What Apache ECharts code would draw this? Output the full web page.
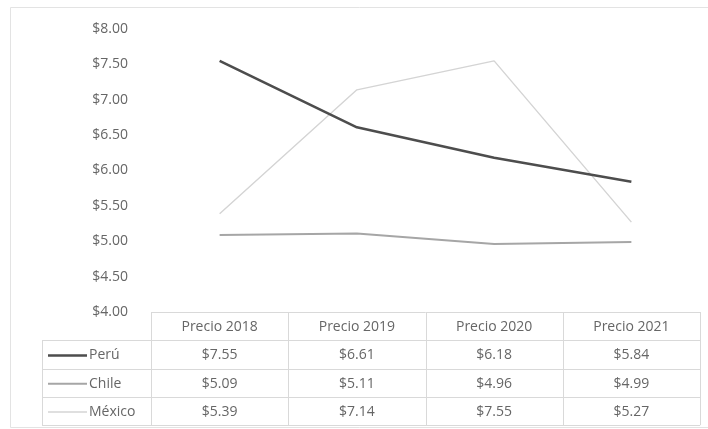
<!DOCTYPE html>
<html><head><meta charset="utf-8">
<script src="https://cdn.jsdelivr.net/npm/echarts@6/dist/echarts.min.js"></script>
<style>html,body{margin:0;padding:0;background:#fff}#c{width:708px;height:429px}</style>
</head><body><div id="c"></div>
<script>
var categories = ['Precio 2018', 'Precio 2019', 'Precio 2020', 'Precio 2021'];
var seriesNames = ['Perú', 'Chile', 'México'];
var peru = [7.55, 6.61, 6.18, 5.84];
var chile = [5.09, 5.11, 4.96, 4.99];
var mexico = [5.39, 7.14, 7.55, 5.27];
var yTicks = [4, 4.5, 5, 5.5, 6, 6.5, 7, 7.5, 8];

var allValues = [peru, chile, mexico];
var colors = ['#4d4d4d', '#a6a6a6', '#d4d4d4'];
var widths = [2.6, 2, 1.4];
var textColor = '#666666';
var border = '#d9d9d9';
var font = '"Open Sans", "Liberation Sans", Arial, sans-serif';
var fs = 14;

var chart = echarts.init(document.getElementById('c'));
var G = {left: 151, right: 8, top: 29, bottom: 117};

var option = {
  animation: false,
  grid: {left: G.left, right: G.right, top: G.top, bottom: G.bottom, containLabel: false},
  xAxis: {type: 'category', data: categories, boundaryGap: true,
    axisLine: {show: false}, axisTick: {show: false}, axisLabel: {show: false}},
  yAxis: {type: 'value', min: yTicks[0], max: yTicks[yTicks.length - 1], interval: 0.5,
    axisLine: {show: false}, axisTick: {show: false}, splitLine: {show: false},
    axisLabel: {color: textColor, fontSize: fs, fontFamily: font, margin: 23,
      formatter: function (v) { return '$' + v.toFixed(2); }}},
  series: seriesNames.map(function (n, i) {
    return {name: n, type: 'line', data: allValues[i], symbol: 'none', z: 3 - i,
      lineStyle: {color: colors[i], width: widths[i]}};
  })
};
chart.setOption(option);

// build data table from the arrays, positioned through the chart's own scales
var W = 708, H = 429;
var tableTop = H - G.bottom;
var rowH = 28.3;
var colLeft = 42, plotLeft = G.left, plotRight = W - G.right;
var step = (plotRight - plotLeft) / categories.length;
var els = [];
els.push({type: 'rect', shape: {x: 10.5, y: 7.5, width: 720, height: 420}, style: {fill: 'none', stroke: '#e3e3e3', lineWidth: 1}, silent: true});
function line(x1, y1, x2, y2) {
  els.push({type: 'line', shape: {x1: x1, y1: y1, x2: x2, y2: y2}, style: {stroke: border, lineWidth: 1}, silent: true});
}
var bottomY = tableTop + rowH * (seriesNames.length + 1);
line(plotLeft, tableTop + 0.5, plotRight, tableTop + 0.5);
for (var r = 1; r <= seriesNames.length + 1; r++) {
  var yy = Math.round(tableTop + rowH * r) + 0.5;
  line(colLeft, yy, plotRight, yy);
}
line(colLeft + 0.5, Math.round(tableTop + rowH) + 0.5, colLeft + 0.5, bottomY);
for (var c = 0; c <= categories.length; c++) {
  var xx = Math.round(plotLeft + step * c) + 0.5;
  line(xx, tableTop, xx, bottomY);
}
var tfont = fs + 'px ' + font;
categories.forEach(function (cat, i) {
  var px = chart.convertToPixel({xAxisIndex: 0}, cat);
  els.push({type: 'text', x: px, y: tableTop + rowH / 2 + 1, silent: true,
    style: {text: cat, fill: textColor, font: tfont, align: 'center', verticalAlign: 'middle'}});
});
seriesNames.forEach(function (n, r) {
  var cy = tableTop + rowH * (r + 1.5) + 1;
  els.push({type: 'line', shape: {x1: 48, y1: cy, x2: 87, y2: cy}, style: {stroke: colors[r], lineWidth: widths[r]}, silent: true});
  els.push({type: 'text', x: 89, y: cy, silent: true,
    style: {text: n, fill: textColor, font: tfont, align: 'left', verticalAlign: 'middle'}});
  allValues[r].forEach(function (v, i) {
    var px = chart.convertToPixel({xAxisIndex: 0}, categories[i]);
    els.push({type: 'text', x: px, y: cy, silent: true,
      style: {text: '$' + v.toFixed(2), fill: textColor, font: tfont, align: 'center', verticalAlign: 'middle'}});
  });
});
chart.setOption({graphic: {elements: els}});
</script></body></html>
